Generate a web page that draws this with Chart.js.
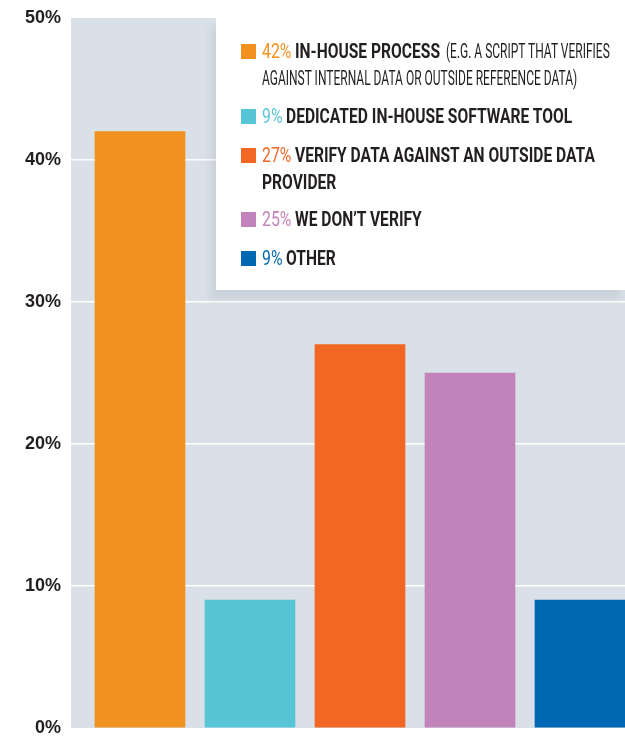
<!DOCTYPE html>
<html>
<head>
<meta charset="utf-8">
<script src="https://cdn.jsdelivr.net/npm/chart.js@4/dist/chart.umd.min.js"></script>
<style>
  html, body { margin: 0; padding: 0; background: #ffffff; }
  #wrap { position: relative; width: 625px; height: 736px; overflow: hidden; }
  #chart { position: absolute; left: 0; top: 0; }
  #legend {
    position: absolute; left: 216px; top: 18px; width: 409px; height: 272px;
    background: #ffffff;
    box-shadow: -5px 9px 8px rgba(60, 80, 100, 0.10);
  }
  .swatch { position: absolute; width: 15px; height: 15px; }
  .run {
    position: absolute;
    font-family: Roboto, "DejaVu Sans Condensed", sans-serif;
    font-size: 20px; line-height: 27px; color: #231f20;
    white-space: pre; transform-origin: 0 0;
  }
</style>
</head>
<body>
<div id="wrap">
  <canvas id="chart" width="625" height="736"></canvas>
  <div id="legend"></div>
</div>
<script>
// Survey answers: how teams verify their data
const answerMain = [
  "IN-HOUSE PROCESS",
  "DEDICATED IN-HOUSE SOFTWARE TOOL",
  "VERIFY DATA AGAINST AN OUTSIDE DATA\nPROVIDER",
  "WE DON\u2019T VERIFY",
  "OTHER"
];
const answerNote = [
  "(E.G. A SCRIPT THAT VERIFIES\nAGAINST INTERNAL DATA OR OUTSIDE REFERENCE DATA)",
  "", "", "", ""
];
const shares = [42, 9, 27, 25, 9];
const barColors = ["#f1911f", "#57c5d5", "#f26723", "#c283ba", "#0068b2"];
const yTicks = ["0%", "10%", "20%", "30%", "40%", "50%"];
const legendLineCenters = [51, 116, 155, 219, 258];

// Plot background panel behind the bars
const panelBg = {
  id: "panelBg",
  beforeDraw(chart) {
    const { ctx, chartArea: a } = chart;
    ctx.save();
    ctx.fillStyle = "#d9e0e7";
    ctx.fillRect(a.left, a.top, a.right - a.left, a.bottom - a.top);
    ctx.restore();
  }
};

new Chart(document.getElementById("chart"), {
  type: "bar",
  data: {
    datasets: [{
      data: shares.map((v, i) => ({ x: i, y: v })),
      backgroundColor: barColors,
      borderWidth: 0,
      barThickness: 90
    }]
  },
  options: {
    responsive: false,
    animation: false,
    layout: { padding: { top: 18, bottom: 8, left: 0, right: 0 } },
    plugins: { legend: { display: false }, tooltip: { enabled: false } },
    scales: {
      x: {
        type: "linear",
        display: false,
        offset: false,
        min: -0.627,
        max: 4.409
      },
      y: {
        min: 0, max: 50,
        afterFit(scale) {
          scale.width = 71;
          scale.paddingTop = 0;
          scale.paddingBottom = 0;
        },
        border: { display: false },
        grid: {
          drawTicks: false,
          lineWidth: 1.5,
          color: (c) => (c.tick && (c.tick.value === 0 || c.tick.value === 50)) ? "rgba(0,0,0,0)" : "#ffffff"
        },
        ticks: {
          stepSize: 10,
          padding: 10,
          color: "#231f20",
          font: { family: "'Liberation Sans', Arial, sans-serif", size: 18, weight: "bold" },
          callback: (v) => yTicks[Math.round(v / 10)]
        }
      }
    }
  },
  plugins: [panelBg]
});

// Legend panel: condensed text runs laid out line by line
const legend = document.getElementById("legend");
const runStyle = {
  pct:  { weight: "normal", sx: 0.79 },
  main: { weight: "bold",   sx: 0.78 },
  note: { weight: "normal", sx: 0.60 }
};
const textLeft = 46, swatchLeft = 25, lineStep = 27;

function placeRun(text, kind, color, x, top) {
  const s = document.createElement("span");
  s.className = "run";
  s.textContent = text;
  s.style.fontWeight = runStyle[kind].weight;
  s.style.transform = "scaleX(" + runStyle[kind].sx + ")";
  s.style.left = x + "px";
  s.style.top = top + "px";
  if (color) s.style.color = color;
  legend.appendChild(s);
  return x + s.getBoundingClientRect().width;
}

shares.forEach((v, i) => {
  const firstTop = legendLineCenters[i] - 18 - lineStep / 2;
  const sw = document.createElement("div");
  sw.className = "swatch";
  sw.style.background = barColors[i];
  sw.style.left = swatchLeft + "px";
  sw.style.top = (firstTop + 6) + "px";
  legend.appendChild(sw);

  // Build lines of runs from the label pieces
  const lines = [[{ t: v + "% ", k: "pct", c: barColors[i] }]];
  const mainParts = answerMain[i].split("\n");
  mainParts.forEach((p, j) => {
    if (j > 0) lines.push([]);
    lines[lines.length - 1].push({ t: p, k: "main" });
  });
  if (answerNote[i]) {
    answerNote[i].split("\n").forEach((p, j) => {
      if (j > 0) lines.push([]);
      lines[lines.length - 1].push({ t: (j === 0 ? "  " : "") + p, k: "note" });
    });
  }
  lines.forEach((runs, li) => {
    let x = textLeft;
    runs.forEach((r) => { x = placeRun(r.t, r.k, r.c, x, firstTop + li * lineStep); });
  });
});
</script>
</body>
</html>
